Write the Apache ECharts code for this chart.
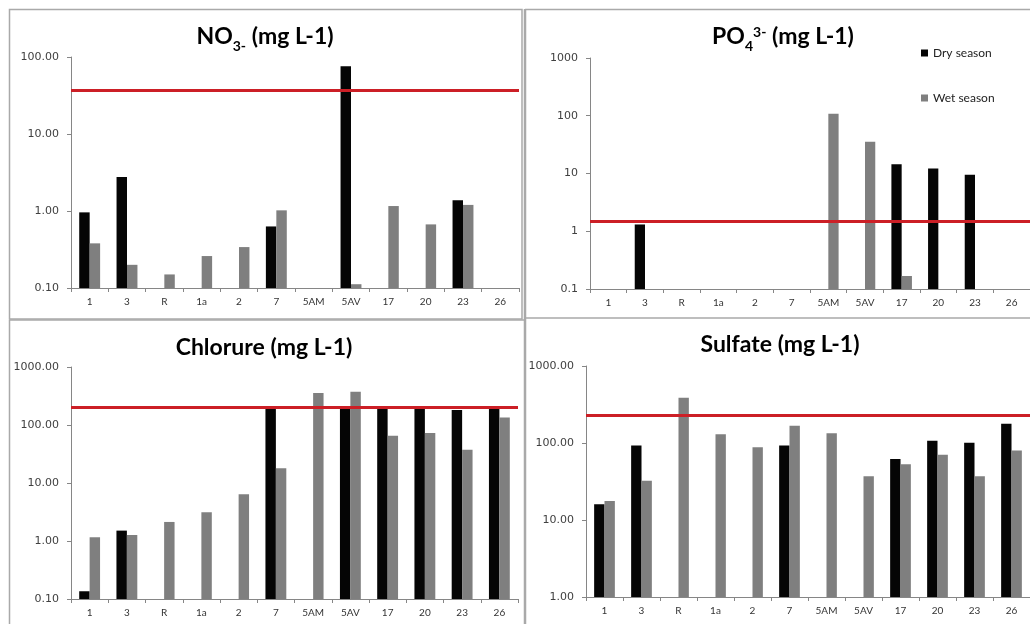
<!DOCTYPE html>
<html><head><meta charset="utf-8">
<script src="https://cdn.jsdelivr.net/npm/echarts@6/dist/echarts.min.js"></script>
<style>html,body{margin:0;padding:0;background:#fff}#c{width:1030px;height:624px}</style>
</head><body><div id="c"></div>
<script>
// ---- data ----
const categories = ['1','3','R','1a','2','7','5AM','5AV','17','20','23','26'];
const seriesNames = ['Dry season','Wet season'];

const no3Dry = [0.96, 2.76, null, null, null, 0.63, null, 76, null, null, 1.38, null];
const no3Wet = [0.38, 0.20, 0.15, 0.26, 0.34, 1.02, null, 0.112, 1.16, 0.67, 1.20, null];
const no3Limit = 37;
const no3Range = [0.1, 100];

const po4Dry = [null, 1.31, null, null, null, null, null, null, 14.5, 12.2, 9.5, null];
const po4Wet = [null, null, null, null, null, null, 108, 35.4, 0.168, null, null, null];
const po4Limit = 1.5;
const po4Range = [0.1, 1000];

const clDry = [0.136, 1.51, null, null, null, 196, null, 196, 196, 196, 181, 196];
const clWet = [1.16, 1.27, 2.13, 3.13, 6.4, 18, 355, 374, 65, 73, 37.3, 135];
const clLimit = 200;
const clRange = [0.1, 1000];

const so4Dry = [16, 93, null, null, null, 93, null, null, 62, 107, 101, 178];
const so4Wet = [17.7, 32.4, 388, 130, 88, 168, 134, 36.9, 52.8, 70.5, 36.9, 80];
const so4Limit = 230;
const so4Range = [1, 1000];

// ---- chart ----
const FONT = 'Lato, "Open Sans", "DejaVu Sans", sans-serif';
const YFONT = '"DejaVu Sans", Verdana, sans-serif';
const chart = echarts.init(document.getElementById('c'), null, {renderer: 'canvas'});

const grids = [
  {left: 71, top: 57, width: 448, height: 231},
  {left: 590, top: 58, width: 450, height: 231},
  {left: 71, top: 367, width: 447, height: 232},
  {left: 586, top: 366, width: 450, height: 231}
];
const panels = [
  {dry: no3Dry, wet: no3Wet, limit: no3Limit, range: no3Range, fmt: v => v.toFixed(2)},
  {dry: po4Dry, wet: po4Wet, limit: po4Limit, range: po4Range, fmt: v => String(parseFloat(v.toPrecision(6)))},
  {dry: clDry, wet: clWet, limit: clLimit, range: clRange, fmt: v => v.toFixed(2)},
  {dry: so4Dry, wet: so4Wet, limit: so4Limit, range: so4Range, fmt: v => v.toFixed(2)}
];

const axisColor = '#868686';
const xAxes = [], yAxes = [], series = [];
panels.forEach((p, i) => {
  xAxes.push({
    type: 'category', gridIndex: i, data: categories,
    axisLine: {show: true, lineStyle: {color: axisColor, width: 1}},
    axisTick: {show: true, length: 4, lineStyle: {color: axisColor}},
    axisLabel: {interval: 0, fontSize: 10, color: '#333', fontFamily: FONT, margin: 9},
    splitLine: {show: false}
  });
  yAxes.push({
    type: 'log', logBase: 10, gridIndex: i, min: p.range[0], max: p.range[1],
    startValue: p.range[0],
    axisLine: {show: true, lineStyle: {color: axisColor, width: 1}},
    axisTick: {show: true, length: 4, lineStyle: {color: axisColor}},
    minorTick: {show: false},
    splitLine: {show: false},
    axisLabel: {fontSize: 11, color: '#404040', fontFamily: YFONT, margin: 12, formatter: p.fmt}
  });
  series.push({
    name: seriesNames[0], type: 'bar', xAxisIndex: i, yAxisIndex: i, data: p.dry,
    itemStyle: {color: '#050505'}, barGap: '0%', barCategoryGap: '44%'
  });
  series.push({
    name: seriesNames[1], type: 'bar', xAxisIndex: i, yAxisIndex: i, data: p.wet,
    itemStyle: {color: '#7f7f7f'}, barGap: '0%', barCategoryGap: '44%',
    markLine: {
      silent: true, symbol: 'none', z: 10,
      label: {show: false},
      lineStyle: {color: '#cc1f26', width: 3, type: 'solid'},
      data: [{yAxis: p.limit}]
    }
  });
});

const TS = 23;
const titleRich = {
  m: {fontSize: TS, fontWeight: 'bold', fontFamily: FONT, lineHeight: 32, fill: '#000', color: '#000'},
  sub: {fontSize: 14, fontWeight: 'bold', fontFamily: FONT, lineHeight: 14, verticalAlign: 'bottom', fill: '#000', color: '#000'},
  sup: {fontSize: 14, fontWeight: 'bold', fontFamily: FONT, lineHeight: 14, verticalAlign: 'top', padding: [4, 0, 0, 0], fill: '#000', color: '#000'}
};
function titleEl(text, x, y) {
  return {
    type: 'text', x: x, y: y, z: 100,
    style: {text: text, rich: titleRich, align: 'center', verticalAlign: 'middle', fill: '#000',
            font: 'bold ' + TS + 'px ' + FONT}
  };
}
const borderColor = '#a9a9a9';
const graphics = [
  {type: 'rect', shape: {x: 9.5, y: 9.5, width: 512.5, height: 309.5}, style: {fill: null, stroke: borderColor, lineWidth: 1.5}, z: 0},
  {type: 'line', shape: {x1: 525, y1: 9, x2: 525, y2: 624}, style: {stroke: borderColor, lineWidth: 2.5}, z: 0},
  {type: 'line', shape: {x1: 525, y1: 9.5, x2: 1030, y2: 9.5}, style: {stroke: borderColor, lineWidth: 1.5}, z: 0},
  {type: 'line', shape: {x1: 525, y1: 318, x2: 1030, y2: 318}, style: {stroke: borderColor, lineWidth: 1.5}, z: 0},
  {type: 'line', shape: {x1: 9.5, y1: 320, x2: 9.5, y2: 624}, style: {stroke: borderColor, lineWidth: 1.5}, z: 0},
  {type: 'line', shape: {x1: 9, y1: 320, x2: 525, y2: 320}, style: {stroke: borderColor, lineWidth: 1.5}, z: 0},
  titleEl('{m|NO}{sub|3-}{m| (mg L-1)}', 265, 37),
  titleEl('{m|PO}{sub|4}{sup|3-}{m| (mg L-1)}', 783, 37),
  titleEl('{m|Chlorure (mg L-1)}', 264, 348),
  titleEl('{m|Sulfate (mg L-1)}', 780, 345)
];

chart.setOption({
  animation: false,
  backgroundColor: '#ffffff',
  grid: grids,
  xAxis: xAxes,
  yAxis: yAxes,
  series: series,
  legend: {
    orient: 'vertical', left: 921, top: 47, padding: 0, itemWidth: 7, itemHeight: 7, itemGap: 33,
    icon: 'rect', selectedMode: false, data: seriesNames,
    textStyle: {fontSize: 12, color: '#222', fontFamily: FONT}
  },
  graphic: graphics
});
</script>
</body></html>
